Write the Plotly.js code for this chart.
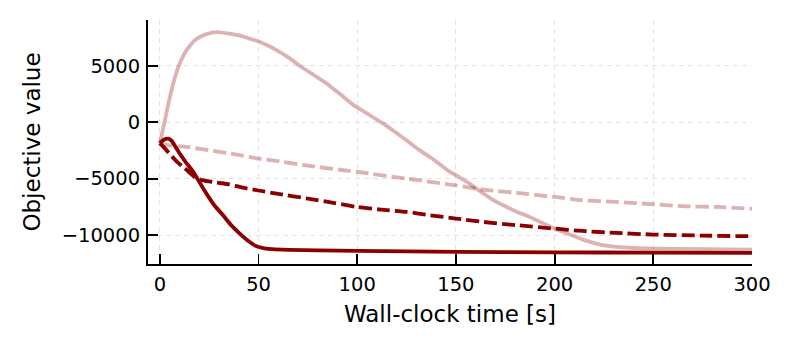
<!DOCTYPE html>
<html>
<head>
<meta charset="utf-8">
<script src="https://cdn.plot.ly/plotly-3.0.1.min.js"></script>
<style>
  html, body { margin: 0; padding: 0; background: #fff; }
  #chart { width: 793px; height: 350px; }
</style>
</head>
<body>
<div id="chart"></div>
<script>
// values
var lightSolidT = [0, 2, 4, 6, 8, 10, 12.5, 15, 17.5, 20, 24, 28.7, 34, 40.5, 45, 50.7, 56, 61, 66, 71, 78, 84.5, 91, 98, 103, 108, 113, 118, 125, 131, 137, 142, 147, 152, 157, 163, 169, 175, 181, 186, 191, 196, 200, 206, 211, 216, 221, 226, 231, 240, 250, 275, 300];
var lightSolidV = [-1850, -300, 1400, 2900, 4200, 5200, 6100, 6750, 7250, 7550, 7850, 8000, 7900, 7700, 7450, 7120, 6700, 6200, 5650, 5000, 4200, 3450, 2550, 1550, 1000, 450, -100, -700, -1600, -2400, -3100, -3750, -4400, -4900, -5450, -6200, -6900, -7450, -7950, -8300, -8700, -9100, -9430, -9850, -10170, -10500, -10760, -10950, -11050, -11150, -11200, -11260, -11290];

var lightDashT = [0, 5, 12, 25, 40, 50, 57, 75, 100, 125, 147, 164, 181, 200, 214, 231, 250, 266, 283, 300];
var lightDashV = [-1850, -2050, -2150, -2480, -2900, -3220, -3370, -3850, -4400, -5000, -5520, -5970, -6260, -6620, -6910, -7060, -7270, -7450, -7510, -7680];

var darkDashT = [0, 3, 6, 9, 11.8, 15, 18, 22, 28.7, 35, 42, 50, 60, 75, 88, 100, 112, 125, 137, 150, 164, 181, 200, 214, 231, 250, 275, 300];
var darkDashV = [-1850, -2400, -3000, -3550, -3950, -4450, -4900, -5150, -5350, -5500, -5800, -6050, -6350, -6770, -7150, -7510, -7750, -7950, -8250, -8540, -8840, -9130, -9430, -9640, -9810, -9960, -10050, -10110];

var darkSolidT = [0, 2, 4.2, 6, 8, 10.1, 13, 16.9, 21.9, 25, 28, 32, 36, 40.5, 45, 49, 53, 57, 65, 80, 100, 150, 200, 250, 300];
var darkSolidV = [-1850, -1550, -1450, -1650, -2200, -2780, -3500, -4400, -5850, -6700, -7450, -8240, -9100, -9870, -10550, -11000, -11180, -11260, -11320, -11370, -11410, -11500, -11540, -11560, -11580];

var xTicks = [0, 50, 100, 150, 200, 250, 300];
var xTickText = ["0", "50", "100", "150", "200", "250", "300"];
var yTicks = [5000, 0, -5000, -10000];
var yTickText = ["5000", "0", "\u22125000", "\u221210000"];

var DARK = "#8b0000", LIGHT = "rgba(139,0,0,0.3)";
var FONT = "DejaVu Sans, sans-serif";

function line(x, y, color, dash) {
  return { x: x, y: y, mode: "lines", showlegend: false, hoverinfo: "skip",
    line: { color: color, width: 3.8, dash: dash, shape: "spline", smoothing: 0.6 } };
}

var traces = [
  line(lightSolidT, lightSolidV, LIGHT, "solid"),
  line(lightDashT, lightDashV, LIGHT, "13px,5px"),
  line(darkDashT, darkDashV, DARK, "13px,5px"),
  line(darkSolidT, darkSolidV, DARK, "solid")
];

var axisCommon = {
  showline: true, linecolor: "#000", linewidth: 2, mirror: false,
  ticks: "inside", ticklen: 10, tickwidth: 1.8, tickcolor: "#000",
  showgrid: true, gridcolor: "#e3e3e3", gridwidth: 1, griddash: "5px,4px",
  zeroline: false, tickfont: { family: FONT, size: 19.5, color: "#000" }
};

var layout = {
  width: 793, height: 350,
  margin: { l: 148, r: 41, t: 20, b: 86 },
  paper_bgcolor: "#fff", plot_bgcolor: "#fff",
  xaxis: Object.assign({}, axisCommon, {
    range: [-6, 300], tickmode: "array", tickvals: xTicks, ticktext: xTickText,
    ticklabelstandoff: 2,
    title: { text: "Wall-clock time [s]", font: { family: FONT, size: 23, color: "#000" }, standoff: 10 }
  }),
  yaxis: Object.assign({}, axisCommon, {
    range: [-12571, 9078], tickmode: "array", tickvals: yTicks, ticktext: yTickText,
    ticklabelstandoff: 2,
    title: { text: "Objective value", font: { family: FONT, size: 23, color: "#000" }, standoff: 15 }
  })
};

Plotly.newPlot("chart", traces, layout, { displayModeBar: false, staticPlot: true });
</script>
</body>
</html>
